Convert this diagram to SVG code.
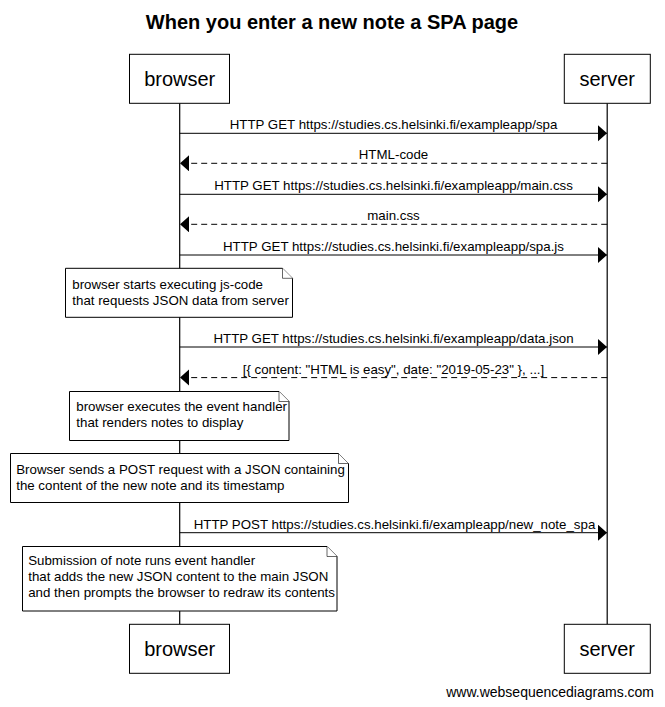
<svg xmlns="http://www.w3.org/2000/svg" width="665" height="707" viewBox="0 0 665 707">
<defs>
<style>
.t{font-family:"Liberation Sans",Arial,sans-serif;fill:#000}
.title{font-size:20px;font-weight:bold}
.actor{font-size:20px}
.lbl{font-size:13.3px}
.foot{font-size:14px}
.box{fill:#fff;stroke:#000;stroke-width:1}
.life{stroke:#000;stroke-width:1.2;fill:none}
.msg{stroke:#000;stroke-width:1;fill:none;marker-end:url(#ah)}
.ret{stroke:#000;stroke-width:1;fill:none;stroke-dasharray:6,4;marker-end:url(#ah)}
.note{fill:#fff;stroke:#000;stroke-width:1}
.fold{fill:#fff;stroke:#000;stroke-width:0.6}
</style>
<marker id="ah" markerUnits="userSpaceOnUse" markerWidth="10" markerHeight="17" refX="9" refY="8" orient="auto">
<path d="M0,0 L9,8 L0,16 Z" fill="#000"/>
</marker>
</defs>
<rect width="665" height="707" fill="#fff"/>
<text class="t title" x="332" y="29" text-anchor="middle">When you enter a new note a SPA page</text>

<g id="lifelines">
<line class="life" x1="179.7" y1="103.3" x2="179.7" y2="624.3"/>
<line class="life" x1="607.2" y1="103.3" x2="607.2" y2="624.3"/>
</g>

<g id="connectors">
<line class="msg" x1="179.7" y1="133.3" x2="607" y2="133.3"/>
<text class="t lbl" x="393.5" y="129.3" text-anchor="middle">HTTP GET https://studies.cs.helsinki.fi/exampleapp/spa</text>
<line class="ret" x1="607.2" y1="163.3" x2="180" y2="163.3"/>
<text class="t lbl" x="393.5" y="159.3" text-anchor="middle">HTML-code</text>
<line class="msg" x1="179.7" y1="194.3" x2="607" y2="194.3"/>
<text class="t lbl" x="393.5" y="190.3" text-anchor="middle">HTTP GET https://studies.cs.helsinki.fi/exampleapp/main.css</text>
<line class="ret" x1="607.2" y1="224.3" x2="180" y2="224.3"/>
<text class="t lbl" x="393.5" y="220.3" text-anchor="middle">main.css</text>
<line class="msg" x1="179.7" y1="255" x2="607" y2="255"/>
<text class="t lbl" x="393.5" y="251" text-anchor="middle">HTTP GET https://studies.cs.helsinki.fi/exampleapp/spa.js</text>
<line class="msg" x1="179.7" y1="347" x2="607" y2="347"/>
<text class="t lbl" x="393.5" y="343" text-anchor="middle">HTTP GET https://studies.cs.helsinki.fi/exampleapp/data.json</text>
<line class="ret" x1="607.2" y1="377.6" x2="180" y2="377.6"/>
<text class="t lbl" x="393.5" y="373.6" text-anchor="middle">[{ content: "HTML is easy", date: "2019-05-23" }, ...]</text>
<line class="msg" x1="179.7" y1="532.7" x2="607" y2="532.7"/>
<text class="t lbl" x="394.5" y="528.7" text-anchor="middle">HTTP POST https://studies.cs.helsinki.fi/exampleapp/new_note_spa</text>
</g>

<g id="browser-top">
<rect class="box" x="129.5" y="54.3" width="100" height="49"/>
<text class="t actor" x="179.7" y="85.8" text-anchor="middle">browser</text>
</g>
<g id="server-top">
<rect class="box" x="564.3" y="54.3" width="86" height="49"/>
<text class="t actor" x="607.2" y="85.8" text-anchor="middle">server</text>
</g>

<g id="note1">
<path class="note" d="M65.5,268.3 H282.5 L292.5,278.3 V317.3 H65.5 Z"/>
<path class="fold" d="M282.5,268.3 V278.3 H292.5"/>
<text class="t lbl" x="72.3" y="288.5">browser starts executing js-code</text>
<text class="t lbl" x="72.3" y="304.5">that requests JSON data from server</text>
</g>

<g id="note2">
<path class="note" d="M69.5,391.5 H279 L289,401.5 V440.5 H69.5 Z"/>
<path class="fold" d="M279,391.5 V401.5 H289"/>
<text class="t lbl" x="76.3" y="410.5">browser executes the event handler</text>
<text class="t lbl" x="76.3" y="426.5">that renders notes to display</text>
</g>

<g id="note3">
<path class="note" d="M10.5,453.5 H338.5 L348.5,463.5 V502.5 H10.5 Z"/>
<path class="fold" d="M338.5,453.5 V463.5 H348.5"/>
<text class="t lbl" x="16.2" y="474">Browser sends a POST request with a JSON containing</text>
<text class="t lbl" x="16.2" y="490">the content of the new note and its timestamp</text>
</g>

<g id="note4">
<path class="note" d="M22.5,546.5 H327 L337,556.5 V611 H22.5 Z"/>
<path class="fold" d="M327,546.5 V556.5 H337"/>
<text class="t lbl" x="28.2" y="565">Submission of note runs event handler</text>
<text class="t lbl" x="28.2" y="581">that adds the new JSON content to the main JSON</text>
<text class="t lbl" x="28.2" y="597">and then prompts the browser to redraw its contents</text>
</g>

<g id="browser-bottom">
<rect class="box" x="129.5" y="624.3" width="100" height="49"/>
<text class="t actor" x="179.7" y="655.8" text-anchor="middle">browser</text>
</g>
<g id="server-bottom">
<rect class="box" x="564.3" y="624.3" width="86" height="49"/>
<text class="t actor" x="607.2" y="655.8" text-anchor="middle">server</text>
</g>

<text class="t foot" x="654" y="696.5" text-anchor="end">www.websequencediagrams.com</text>
</svg>
